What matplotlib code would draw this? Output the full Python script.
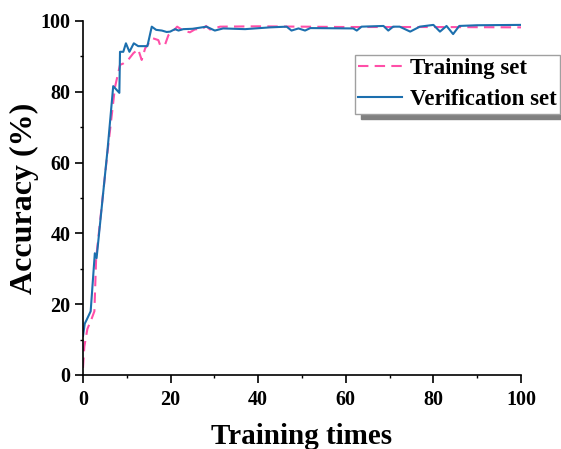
import matplotlib
matplotlib.use("Agg")
import matplotlib.pyplot as plt
from matplotlib.ticker import MultipleLocator

# Data
train_x = [0, 0.3, 1, 2, 2.6, 3, 5.6, 7.3, 8.45, 9.2, 10.3, 11.5, 12.6, 13.4, 14.2, 15.3,
           16, 17.2, 17.6, 18.7, 19.5, 20.7, 21.5, 22.9, 24.4, 25.5, 27.4, 28.1, 29, 31.3,
           40, 60, 80, 100]
train_y = [2, 8, 13, 16, 18, 33, 63, 81.3, 87.6, 88, 89, 90.9, 92, 89, 92.3, 94.2,
           95.1, 94.6, 93.2, 93.2, 96, 97.3, 98.4, 97.3, 96.8, 97.6, 97.9, 98.6, 97.6, 98.4,
           98.5, 98.3, 98.3, 98.2]

valid_x = [0, 0.4, 0.8, 1.75, 2.7, 3.1, 5.6, 6.9, 8.3, 8.45, 9.2, 9.8, 10.6, 11.6, 12.6,
           14.7, 15.7, 16.7, 18, 19.1, 19.9, 21, 21.8, 22.9, 25, 28.2, 30.1, 32, 37, 42.7,
           46.5, 47.6, 49.2, 50.7, 51.9, 61.7, 62.5, 63.6, 68.6, 69.7, 70.8, 72.3, 74.7,
           76.9, 80, 81.5, 83, 84.5, 85.9, 90, 100]
valid_y = [11, 14.5, 15.5, 18, 34.4, 33, 63.6, 81.6, 79.7, 91.3, 91.3, 93.7, 91.3, 93.7, 92.9,
           92.9, 98.4, 97.5, 97.3, 96.9, 97, 97.7, 97.3, 97.7, 97.8, 98.4, 97.3, 97.9, 97.7, 98.2,
           98.4, 97.3, 97.9, 97.3, 98, 97.9, 97.3, 98.4, 98.6, 97.3, 98.4, 98.4, 97,
           98.4, 98.9, 97, 98.6, 96.3, 98.6, 98.8, 98.9]

plt.rcParams['font.family'] = ['Liberation Serif', 'DejaVu Serif']
plt.rcParams['font.weight'] = 'bold'

fig = plt.figure(figsize=(5.61, 4.49), dpi=100)
ax = fig.add_axes([83/561, 1-375/449, (521-83)/561, (375-21)/449])

ax.plot(train_x, train_y, color='#FF4FA8', lw=1.5, dashes=(5, 3), label='Training set')
ax.plot(valid_x, valid_y, color='#1C6FAE', lw=1.5, label='Verification set')

ax.set_xlim(0, 100)
ax.set_ylim(0, 100)
ax.xaxis.set_major_locator(MultipleLocator(20))
ax.xaxis.set_minor_locator(MultipleLocator(10))
ax.yaxis.set_major_locator(MultipleLocator(20))
ax.yaxis.set_minor_locator(MultipleLocator(10))
ax.spines['top'].set_visible(False)
ax.spines['right'].set_visible(False)
for s in ['left', 'bottom']:
    ax.spines[s].set_linewidth(1.2)
ax.tick_params(which='major', direction='out', length=5.5, width=1.2, labelsize=14.5, pad=3.5)
ax.tick_params(axis='x', which='major', pad=5)
ax.tick_params(which='minor', direction='out', length=2.5, width=1.0)
for lab in ax.get_xticklabels() + ax.get_yticklabels():
    lab.set_fontweight('bold')

ax.set_xlabel('Training times', fontsize=21, fontweight='bold')
ax.xaxis.set_label_coords(0.5, -0.135)
ax.xaxis.label.set_va('top')
ax.set_ylabel('Accuracy (%)', fontsize=23, fontweight='bold')
ax.yaxis.set_label_coords(-0.1, 0.5)

leg = ax.legend(loc='upper left', bbox_to_anchor=(355/561, 1-55/449),
                bbox_transform=fig.transFigure, frameon=True,
                shadow={'ox': 4, 'oy': -4, 'facecolor': '#808080', 'edgecolor': '#808080', 'alpha': 1},
                fancybox=False, fontsize=16.5, handlelength=1.9, borderpad=0.15,
                labelspacing=0.42, handletextpad=0.35, borderaxespad=0)
leg.get_frame().set_edgecolor('#A0A0A0')
leg.get_frame().set_linewidth(1.0)
for t in leg.get_texts():
    t.set_fontweight('bold')

fig.savefig('out.png', dpi=100)
